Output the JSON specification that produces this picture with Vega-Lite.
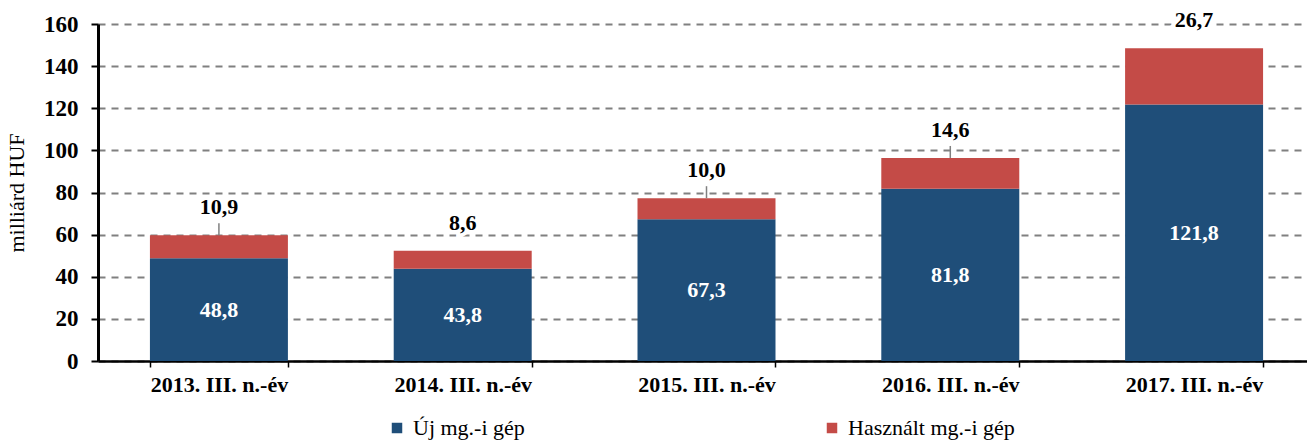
{
  "$schema": "https://vega.github.io/schema/vega-lite/v6.json",
  "width": 1217,
  "height": 337,
  "autosize": {"type": "none"},
  "padding": {"left": 98, "top": 24, "right": 0, "bottom": 80},
  "config": {
    "font": "Liberation Serif",
    "axis": {"labelFont": "Liberation Serif", "titleFont": "Liberation Serif"},
    "legend": {"labelFont": "Liberation Serif"},
    "text": {"font": "Liberation Serif"},
    "view": {"stroke": null},
    "locale": {"number": {"decimal": ",", "thousands": " ", "grouping": [3], "currency": ["", ""]}}
  },
  "data": {
    "values": [
      {"year": "2013. III. n.-év", "type": "Új mg.-i gép", "value": 48.8},
      {"year": "2013. III. n.-év", "type": "Használt mg.-i gép", "value": 10.9},
      {"year": "2014. III. n.-év", "type": "Új mg.-i gép", "value": 43.8},
      {"year": "2014. III. n.-év", "type": "Használt mg.-i gép", "value": 8.6},
      {"year": "2015. III. n.-év", "type": "Új mg.-i gép", "value": 67.3},
      {"year": "2015. III. n.-év", "type": "Használt mg.-i gép", "value": 10.0},
      {"year": "2016. III. n.-év", "type": "Új mg.-i gép", "value": 81.8},
      {"year": "2016. III. n.-év", "type": "Használt mg.-i gép", "value": 14.6},
      {"year": "2017. III. n.-év", "type": "Új mg.-i gép", "value": 121.8},
      {"year": "2017. III. n.-év", "type": "Használt mg.-i gép", "value": 26.7}
    ]
  },
  "encoding": {
    "x": {
      "field": "year",
      "type": "nominal",
      "scale": {"paddingInner": 0.434, "paddingOuter": 0.213},
      "axis": {
        "title": null,
        "labelAngle": 0,
        "labelFont": "Liberation Serif",
        "labelFontWeight": "bold",
        "labelFontSize": 22,
        "labelColor": "black",
        "labelPadding": 7,
        "domainColor": "black",
        "domainWidth": 2.5,
        "tickColor": "black",
        "tickWidth": 1.5,
        "tickSize": 6,
        "tickBand": "extent"
      }
    }
  },
  "layer": [
    {
      "mark": {"type": "bar"},
      "encoding": {
        "y": {
          "field": "value",
          "type": "quantitative",
          "stack": "zero",
          "scale": {"domain": [0, 160], "nice": false},
          "axis": {
            "values": [0, 20, 40, 60, 80, 100, 120, 140, 160],
            "grid": true,
            "gridDash": [7, 6],
            "gridColor": "#808080",
            "gridWidth": 2,
            "domainColor": "black",
            "domainWidth": 3,
            "tickColor": "black",
            "tickWidth": 2,
            "tickSize": 7,
            "labelFont": "Liberation Serif",
            "labelFontWeight": "bold",
            "labelFontSize": 23,
            "labelColor": "black",
            "labelPadding": 13,
            "title": "milliárd HUF",
            "titleFont": "Liberation Serif",
            "titleFontWeight": "normal",
            "titleFontSize": 22,
            "titleColor": "black",
            "titlePadding": 15
          }
        },
        "color": {
          "field": "type",
          "type": "nominal",
          "scale": {"domain": ["Új mg.-i gép", "Használt mg.-i gép"], "range": ["#1F4E79", "#C44B47"]},
          "legend": {
            "title": null,
            "orient": "none",
            "direction": "horizontal",
            "legendX": 288,
            "legendY": 393,
            "columnPadding": 296,
            "symbolType": "square",
            "symbolSize": 110,
            "symbolStrokeWidth": 0,
            "labelFont": "Liberation Serif",
            "labelFontSize": 22,
            "labelColor": "black",
            "labelLimit": 400,
            "labelOffset": 5
          }
        },
        "order": {"field": "type", "sort": "descending"}
      }
    },
    {
      "transform": [{"filter": {"field": "year", "oneOf": ["2013. III. n.-év", "2015. III. n.-év", "2016. III. n.-év"]}}],
      "mark": {"type": "rule", "color": "#808080", "strokeWidth": 1.5, "y2Offset": -12},
      "encoding": {
        "y": {"aggregate": "sum", "field": "value", "type": "quantitative", "scale": {"domain": [0, 160], "nice": false}, "axis": null},
        "y2": {"aggregate": "sum", "field": "value"}
      }
    },
    {
      "mark": {"type": "text", "dy": -28, "baseline": "middle", "font": "Liberation Serif", "fontWeight": "bold", "fontSize": 22, "stroke": "white", "strokeWidth": 8, "color": "white"},
      "encoding": {
        "y": {"field": "value", "type": "quantitative", "stack": "zero", "scale": {"domain": [0, 160], "nice": false}, "axis": null},
        "detail": {"field": "type"},
        "order": {"field": "type", "sort": "descending"},
        "text": {"field": "value", "type": "quantitative", "format": ".1f", "condition": {"test": "datum.type === 'Új mg.-i gép'", "value": ""}}
      }
    },
    {
      "mark": {"type": "text", "dy": -28, "baseline": "middle", "font": "Liberation Serif", "fontWeight": "bold", "fontSize": 22, "color": "black"},
      "encoding": {
        "y": {"field": "value", "type": "quantitative", "stack": "zero", "scale": {"domain": [0, 160], "nice": false}, "axis": null},
        "detail": {"field": "type"},
        "order": {"field": "type", "sort": "descending"},
        "text": {"field": "value", "type": "quantitative", "format": ".1f", "condition": {"test": "datum.type === 'Új mg.-i gép'", "value": ""}}
      }
    },
    {
      "transform": [{"filter": {"field": "type", "equal": "Új mg.-i gép"}}],
      "mark": {"type": "text", "baseline": "middle", "font": "Liberation Serif", "fontWeight": "bold", "fontSize": 22, "color": "white"},
      "encoding": {
        "y": {"field": "value", "type": "quantitative", "scale": {"domain": [0, 320], "nice": false}, "axis": null},
        "text": {"field": "value", "type": "quantitative", "format": ".1f"}
      }
    }
  ],
  "resolve": {"scale": {"y": "independent"}}
}
